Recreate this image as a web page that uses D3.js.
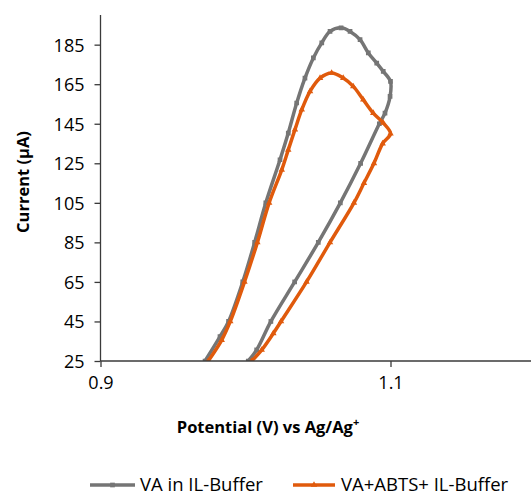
<!DOCTYPE html>
<html>
<head>
<meta charset="utf-8">
<script src="https://cdn.jsdelivr.net/npm/d3@7"></script>
<style>
  body { margin: 0; background: #fff; }
  svg text { font-family: "Open Sans", "Liberation Sans", sans-serif; fill: #000; }
</style>
</head>
<body>
<script>
// potential (V) and current (uA), one loop per series
var vaPotential = [1.0019, 1.0077, 1.0175, 1.0339, 1.0502, 1.0654, 1.0794, 1.0923, 1.0962, 1.0997, 1.1,
                   1.095, 1.0905, 1.0847, 1.079, 1.0721, 1.0659, 1.0583, 1.0526, 1.0468, 1.041, 1.0353, 1.0295, 1.0238, 1.014, 1.0063, 0.9981, 0.9883, 0.9824, 0.9721];
var vaCurrent   = [25, 30.6, 45, 65, 85, 105, 125, 145, 150.4, 158.8, 166.4,
                   171.5, 175.7, 180.8, 187.5, 191.7, 193.5, 191.7, 185.9, 178.3, 168.1, 155.5, 140.3, 126.8, 105, 85, 65, 45, 37.3, 25];

var abtsPotential = [1.0043, 1.0112, 1.0192, 1.0245, 1.0421, 1.0583, 1.0748, 1.0817, 1.0886, 1.0946, 1.1,
                     1.095, 1.0881, 1.0812, 1.0743, 1.0674, 1.0594, 1.0514, 1.0445, 1.0388, 1.0341, 1.0295, 1.025, 1.0163, 1.0082, 0.9993, 0.9895, 0.9836, 0.9743];
var abtsCurrent   = [25, 30.6, 39, 45, 65, 85, 105, 115, 125, 135, 140,
                     145.4, 150.4, 157.2, 163.9, 168.1, 170.7, 168.1, 161.4, 152.1, 142, 131.8, 121.7, 105, 85, 65, 45, 35.6, 25];

var seriesNames = ["VA in IL-Buffer", "VA+ABTS+ IL-Buffer"];
var seriesColors = ["#757575", "#e05a0c"];
var xTicks = [0.9, 1.1];
var yTicks = [25, 45, 65, 85, 105, 125, 145, 165, 185];

var width = 531, height = 496;
var plotLeft = 100.5, plotTop = 15, plotRight = 535.5, plotBottom = 361;

var svg = d3.select("body").append("svg")
    .attr("width", width)
    .attr("height", height);

var x = d3.scaleLinear().domain([0.9, 1.2]).range([plotLeft, plotRight]);
var y = d3.scaleLinear().domain([25, 200]).range([plotBottom, plotTop]);

svg.append("defs").append("clipPath").attr("id", "plot")
    .append("rect")
    .attr("x", plotLeft).attr("y", plotTop - 5)
    .attr("width", plotRight - plotLeft).attr("height", plotBottom - plotTop + 5);

//build point lists
var series = [
    d3.zip(vaPotential, vaCurrent),
    d3.zip(abtsPotential, abtsCurrent)
];

var line = d3.line()
    .x(function (d) { return x(d[0]); })
    .y(function (d) { return y(d[1]); })
    .curve(d3.curveCatmullRom.alpha(0.5));

var square = d3.symbol().type(d3.symbolSquare).size(22);
var triangle = d3.symbol().type(d3.symbolTriangle).size(18);
var markers = [square, triangle];

var g = svg.append("g").attr("clip-path", "url(#plot)");

series.forEach(function (pts, i) {
    g.append("path")
        .attr("d", line(pts))
        .attr("fill", "none")
        .attr("stroke", seriesColors[i])
        .attr("stroke-width", 3.5)
        .attr("stroke-linejoin", "round");
    g.selectAll(".m" + i).data(pts).enter().append("path")
        .attr("class", "m" + i)
        .attr("d", markers[i])
        .attr("transform", function (d) { return "translate(" + x(d[0]) + "," + y(d[1]) + ")"; })
        .attr("fill", seriesColors[i]);
});

//axes
var yAxis = svg.append("g")
    .attr("transform", "translate(" + plotLeft + ",0)")
    .call(d3.axisLeft(y).tickValues(yTicks).tickSize(6).tickPadding(10));
yAxis.select(".domain").attr("d", "M0," + plotTop + "V" + plotBottom).attr("stroke", "#3a3a3a").attr("stroke-width", 1.3);
yAxis.selectAll(".tick line").attr("stroke", "#3a3a3a").attr("stroke-width", 1.3);
yAxis.selectAll("text").style("font-size", "18px").attr("dy", "0.36em");

var xAxis = svg.append("g")
    .attr("transform", "translate(0," + plotBottom + ")")
    .call(d3.axisBottom(x).tickValues(xTicks).tickFormat(d3.format(".1f")).tickSize(6).tickPadding(9));
xAxis.select(".domain").attr("d", "M" + plotLeft + ",0H" + width).attr("stroke", "#3a3a3a").attr("stroke-width", 1.3);
xAxis.selectAll(".tick line").attr("stroke", "#3a3a3a").attr("stroke-width", 1.3);
xAxis.selectAll("text").style("font-size", "18px");

//axis titles
svg.append("text")
    .attr("transform", "translate(29,182) rotate(-90)")
    .attr("text-anchor", "middle")
    .style("font-size", "16.5px")
    .style("font-weight", "bold")
    .text("Current (µA)");

var xt = svg.append("text")
    .attr("x", 268)
    .attr("y", 433)
    .attr("text-anchor", "middle")
    .style("font-size", "16.5px")
    .style("font-weight", "bold");
xt.append("tspan").text("Potential (V) vs Ag/Ag");
xt.append("tspan").attr("dy", -7).style("font-size", "11px").text("+");

//legend
var legendX = [[90, 135, 140], [293, 335, 341]];
seriesNames.forEach(function (name, i) {
    var lx = legendX[i];
    svg.append("line")
        .attr("x1", lx[0]).attr("x2", lx[1])
        .attr("y1", 485).attr("y2", 485)
        .attr("stroke", seriesColors[i])
        .attr("stroke-width", 3.5);
    svg.append("path")
        .attr("d", markers[i])
        .attr("transform", "translate(" + ((lx[0] + lx[1]) / 2) + ",485)")
        .attr("fill", seriesColors[i]);
    svg.append("text")
        .attr("x", lx[2])
        .attr("y", 491)
        .style("font-size", "18.5px")
        .text(name);
});
</script>
</body>
</html>
